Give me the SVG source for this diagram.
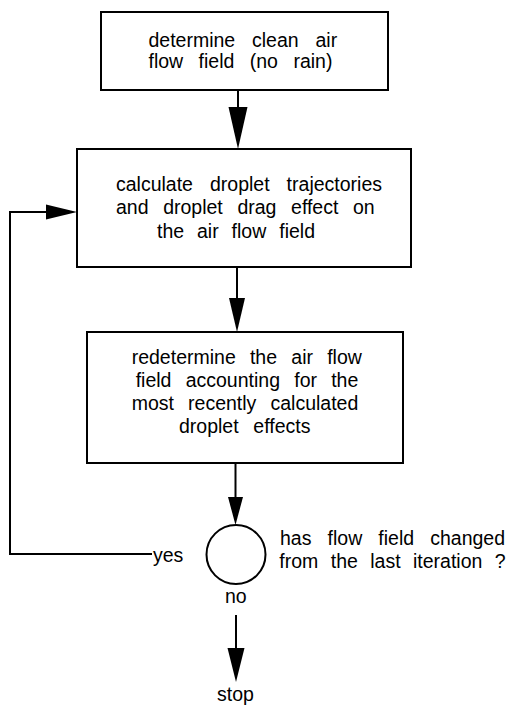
<svg xmlns="http://www.w3.org/2000/svg" width="506" height="705" viewBox="0 0 506 705">
<style>
  .box { fill: #ffffff; stroke: #000000; stroke-width: 2; }
  .line { fill: none; stroke: #000000; stroke-width: 2; }
  .head { fill: #000000; stroke: none; }
  text { font-family: "Liberation Sans", Arial, Helvetica, sans-serif; font-size: 19.5px; fill: #000000; }
</style>
<rect width="506" height="705" fill="#ffffff"/>
<g id="connectors">
  <line class="line" x1="238" y1="90" x2="238" y2="110"/>
  <polygon class="head" points="228.5,107 247.5,107 238,149"/>
  <line class="line" x1="237" y1="267" x2="237" y2="300"/>
  <polygon class="head" points="229,298 245,298 237,332"/>
  <line class="line" x1="235.5" y1="463" x2="235.5" y2="500"/>
  <polygon class="head" points="228,497 243,497 235.5,525"/>
  <line class="line" x1="236" y1="615" x2="236" y2="650"/>
  <polygon class="head" points="227.5,648 244.5,648 236,682"/>
  <polyline class="line" points="152,554 10,554 10,212 48,212"/>
  <polygon class="head" points="46,204.5 46,219.5 77,212"/>
</g>
<g id="node-clean-air">
  <rect class="box" x="101" y="12" width="287" height="78"/>
  <text x="148.5" y="46.5" word-spacing="11.4">determine clean air</text>
  <text x="148.5" y="68" word-spacing="10">flow field (no rain)</text>
</g>
<g id="node-droplets">
  <rect class="box" x="77" y="149" width="334" height="118"/>
  <text x="116" y="190.5" word-spacing="11.6">calculate droplet trajectories</text>
  <text x="116" y="214" word-spacing="9.2">and droplet drag effect on</text>
  <text x="157" y="237.5" word-spacing="7.5">the air flow field</text>
</g>
<g id="node-redetermine">
  <rect class="box" x="87" y="332" width="316" height="131"/>
  <text x="131.7" y="364" word-spacing="8.8">redetermine the air flow</text>
  <text x="135.7" y="387" word-spacing="8.8">field accounting for the</text>
  <text x="131.7" y="410" word-spacing="8.7">most recently calculated</text>
  <text x="179" y="433" word-spacing="9.3">droplet effects</text>
</g>
<g id="node-decision">
  <circle class="line" cx="236" cy="554.5" r="29.5"/>
  <text x="280" y="545" word-spacing="10.7">has flow field changed</text>
  <text x="279.3" y="568" word-spacing="7">from the last iteration ?</text>
  <text x="153" y="562">yes</text>
  <text x="225" y="603">no</text>
</g>
<g id="node-stop">
  <text x="217" y="701">stop</text>
</g>
</svg>
